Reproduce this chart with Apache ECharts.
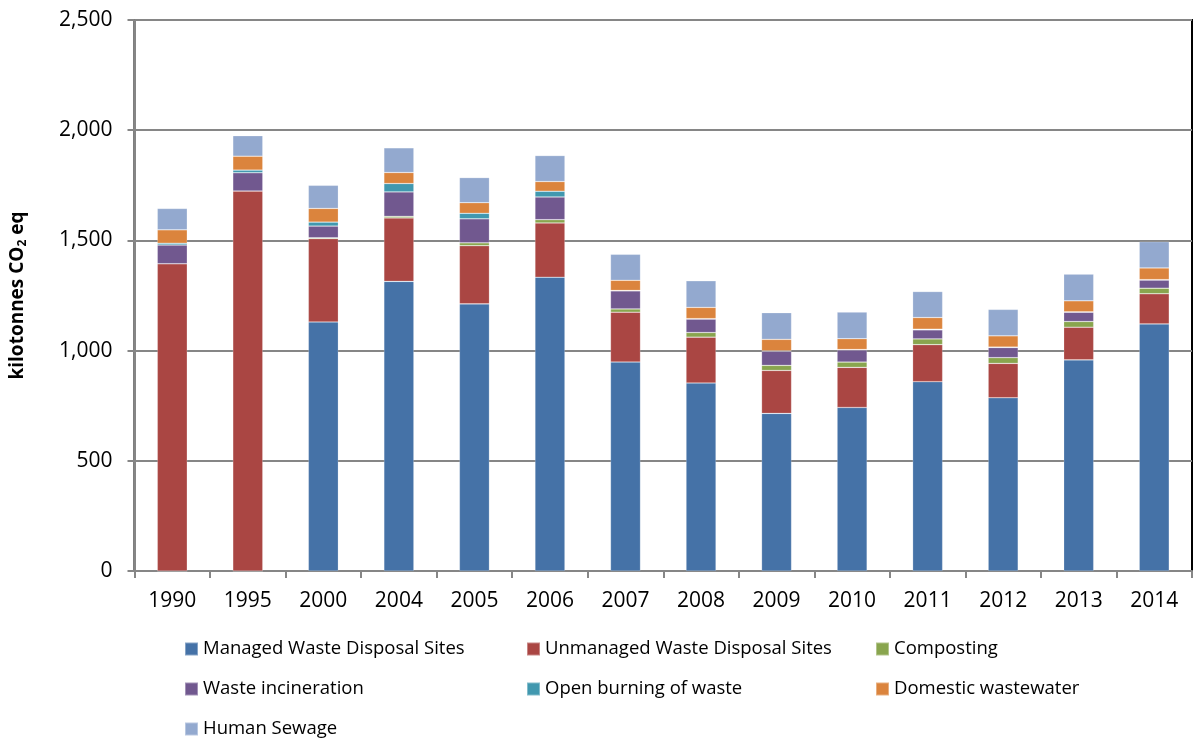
<!DOCTYPE html>
<html><head><meta charset="utf-8">
<script src="https://cdn.jsdelivr.net/npm/echarts@6/dist/echarts.min.js"></script>
<style>html,body{margin:0;padding:0;background:#fff}#c{width:1198px;height:743px}</style>
</head><body><div id="c"></div>
<script>
const categories = ['1990','1995','2000','2004','2005','2006','2007','2008','2009','2010','2011','2012','2013','2014'];
const managed    = [0,0,1130,1314,1212,1333,948,853,715,742,859,786,958,1121];
const unmanaged  = [1394,1724,378,288,264,246,226,208,195,182,168,156,148,137];
const composting = [0,0,4,7,13,15,15,21,23,24,26,26,26,25];
const incineration=[85,83,53,111,109,103,82,61,64,55,41,46,42,37];
const openBurning= [8,12,18,38,25,26,2,2,2,2,3,2,2,2];
const domestic   = [61,63,62,50,48,44,46,51,52,49,53,51,50,53];
const sewage     = [97,93,105,112,114,118,118,121,121,121,118,120,121,119];
const yTicks = [0,500,1000,1500,2000,2500];

const names = ['Managed Waste Disposal Sites','Unmanaged Waste Disposal Sites','Composting','Waste incineration','Open burning of waste','Domestic wastewater','Human Sewage'];
const colors = ['#4572A7','#AA4643','#89A54E','#71588F','#4198AF','#DB843D','#93A9CF'];
const datas = [managed,unmanaged,composting,incineration,openBurning,domestic,sewage];

const chart = echarts.init(document.getElementById('c'), null, {renderer:'canvas'});
const legendText = {fontFamily:'Open Sans', fontSize:18.5, lineHeight:20, color:'#000'};
function legend(left, data){
  return {left:left, top:639, height:140, orient:'vertical', itemGap:20, itemWidth:13, itemHeight:13,
    padding:0, icon:'rect', textStyle:legendText, data:data, selectedMode:false};
}
chart.setOption({
  animation:false,
  color: colors,
  grid:{left:130, right:6, top:20, bottom:172, show:true, borderColor:'#000', borderWidth:2, backgroundColor:'transparent'},
  legend:[
    legend(184,[names[0],names[3],names[6]]),
    legend(526,[names[1],names[4]]),
    legend(875,[names[2],names[5]])
  ],
  xAxis:{type:'category', data:categories,
    axisLine:{lineStyle:{color:'#868686', width:2}},
    axisTick:{show:true, inside:false, length:7, alignWithLabel:false, lineStyle:{color:'#868686', width:2}},
    axisLabel:{fontFamily:'Open Sans', fontSize:21, color:'#000', margin:20}
  },
  yAxis:{type:'value', min:0, max:2500, interval:500,
    name:'kilotonnes CO{sub|2} eq', nameLocation:'middle', nameGap:106, nameRotate:90,
    nameTextStyle:{fontFamily:'Open Sans', fontSize:19, fontWeight:'bold', color:'#000',
      rich:{sub:{fontFamily:'Open Sans', fontSize:12, fontWeight:'bold', color:'#000', verticalAlign:'bottom', padding:[10,0,0,0]}}},
    axisLine:{show:true, lineStyle:{color:'#868686', width:2}},
    axisTick:{show:true, inside:false, length:7, lineStyle:{color:'#868686', width:2}},
    splitLine:{lineStyle:{color:'#868686', width:2}},
    axisLabel:{fontFamily:'Open Sans', fontSize:21, color:'#000', margin:22,
      formatter: v => yTicks.includes(v) ? v.toLocaleString('en-US') : ''}
  },
  series: names.map((n,i)=>({
    name:n, type:'bar', stack:'total', data:datas[i], barWidth:30,
    itemStyle:{color:colors[i], borderColor:'rgba(255,255,255,0.35)', borderWidth:0.6}
  }))
});
</script></body></html>
